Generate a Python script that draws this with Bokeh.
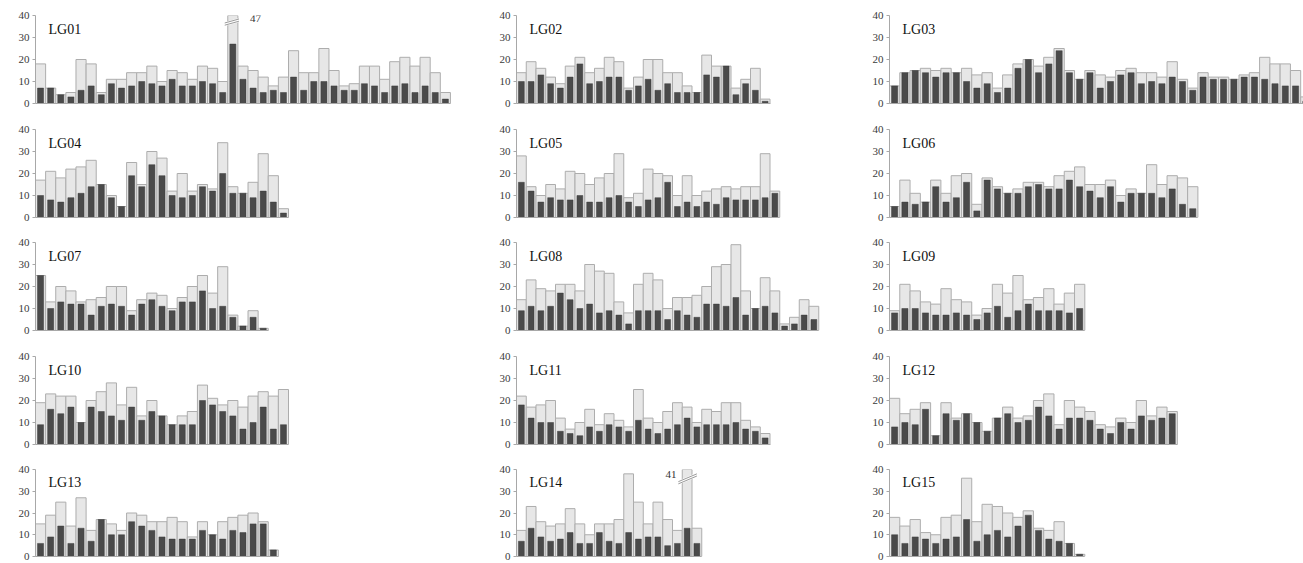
from bokeh.plotting import figure
from bokeh.layouts import column, row
from bokeh.models import Range1d, FixedTicker, Label, ColumnDataSource
from bokeh.embed import file_html
from bokeh.resources import INLINE

# ---------------- data (light = total, dark = subset) ----------------
LG01_total = [18, 7, 4, 5, 20, 18, 5, 11, 11, 14, 14, 17, 10, 15, 14, 11, 17, 16, 10, 47,
              17, 15, 12, 8, 12, 24, 14, 14, 25, 15, 8, 9, 17, 17, 11, 19, 21, 17, 21, 14, 5]
LG01_dark = [7, 7, 4, 3, 6, 8, 4, 9, 7, 8, 10, 9, 8, 11, 8, 8, 10, 9, 5, 27,
             11, 7, 5, 6, 5, 12, 6, 10, 10, 8, 6, 6, 9, 8, 5, 8, 9, 5, 8, 5, 2]
LG02_total = [14, 19, 16, 12, 9, 17, 21, 14, 16, 21, 19, 7, 12, 20, 20, 14, 14, 8, 5, 22, 17, 17, 7, 11, 16, 2]
LG02_dark = [10, 10, 13, 9, 7, 12, 18, 9, 10, 12, 12, 6, 8, 11, 6, 9, 5, 5, 5, 13, 12, 17, 4, 9, 6, 1]
LG03_total = [8, 14, 15, 16, 15, 16, 14, 16, 13, 14, 7, 13, 18, 20, 17, 21, 25, 15, 11, 15,
              13, 12, 15, 16, 14, 14, 12, 19, 11, 7, 14, 12, 12, 11, 13, 14, 21, 18, 18, 15, 3]
LG03_dark = [8, 14, 15, 14, 12, 14, 14, 10, 7, 9, 5, 7, 16, 20, 14, 18, 24, 14, 11, 14,
             7, 10, 13, 14, 9, 10, 9, 12, 10, 6, 12, 11, 11, 11, 12, 12, 11, 9, 8, 8, 1]
LG04_total = [17, 21, 18, 22, 23, 26, 15, 10, 5, 25, 15, 30, 27, 12, 20, 12, 15, 13, 34, 14, 11, 16, 29, 19, 4]
LG04_dark = [10, 8, 7, 9, 11, 14, 15, 9, 5, 19, 14, 24, 19, 10, 9, 10, 14, 12, 20, 11, 11, 9, 12, 7, 2]
LG05_total = [28, 14, 10, 15, 13, 21, 20, 15, 18, 20, 29, 9, 11, 22, 20, 19, 10, 19, 10, 12, 13, 14, 13, 14, 14, 29, 12]
LG05_dark = [16, 12, 7, 9, 8, 8, 10, 7, 7, 9, 10, 7, 5, 8, 9, 16, 5, 7, 5, 7, 6, 9, 8, 8, 8, 9, 11]
LG06_total = [5, 17, 11, 7, 17, 11, 19, 20, 6, 18, 14, 11, 13, 16, 16, 14, 19, 21, 23, 15, 15, 17, 10, 13, 11, 24, 15, 19, 18, 14]
LG06_dark = [5, 7, 6, 7, 14, 7, 9, 16, 3, 17, 13, 11, 11, 14, 15, 13, 13, 17, 14, 12, 9, 14, 7, 11, 11, 11, 9, 13, 6, 4]
LG07_total = [25, 13, 20, 18, 13, 14, 15, 20, 20, 9, 14, 17, 16, 10, 15, 20, 25, 17, 29, 7, 2, 9, 1]
LG07_dark = [25, 10, 13, 12, 12, 7, 11, 12, 11, 7, 12, 14, 11, 9, 13, 13, 18, 10, 11, 6, 2, 6, 1]
LG08_total = [14, 23, 19, 18, 21, 21, 18, 30, 27, 26, 13, 8, 21, 26, 23, 10, 15, 15, 16, 20, 29, 30, 39, 18, 10, 24, 18, 3, 6, 14, 11]
LG08_dark = [9, 11, 9, 11, 17, 14, 10, 12, 8, 9, 7, 3, 9, 9, 9, 5, 9, 7, 6, 12, 12, 11, 15, 7, 10, 11, 8, 2, 3, 7, 5]
LG09_total = [9, 21, 18, 13, 12, 19, 14, 13, 7, 10, 21, 17, 25, 14, 15, 19, 12, 17, 21]
LG09_dark = [8, 10, 10, 8, 7, 7, 8, 7, 5, 8, 11, 6, 9, 12, 9, 9, 9, 8, 10]
LG10_total = [19, 23, 22, 22, 10, 20, 24, 28, 18, 26, 13, 20, 13, 9, 13, 15, 27, 21, 18, 20, 17, 22, 24, 22, 25]
LG10_dark = [9, 16, 14, 17, 10, 17, 15, 13, 11, 17, 11, 15, 13, 9, 9, 9, 20, 18, 15, 13, 7, 10, 17, 7, 9]
LG11_total = [22, 17, 18, 20, 12, 7, 10, 16, 9, 14, 11, 8, 25, 12, 10, 15, 19, 17, 10, 16, 15, 19, 19, 11, 8, 5]
LG11_dark = [18, 12, 10, 10, 6, 5, 4, 8, 6, 9, 8, 6, 11, 7, 5, 7, 9, 12, 8, 9, 9, 9, 10, 7, 6, 3]
LG12_total = [21, 14, 16, 19, 4, 19, 12, 14, 10, 6, 12, 17, 12, 13, 20, 23, 9, 20, 17, 15, 9, 8, 12, 10, 20, 13, 17, 15]
LG12_dark = [8, 10, 9, 16, 4, 14, 11, 14, 10, 6, 12, 14, 10, 11, 17, 13, 7, 12, 12, 11, 7, 5, 10, 7, 13, 11, 12, 14]
LG13_total = [15, 19, 25, 14, 27, 12, 17, 15, 12, 20, 19, 16, 16, 18, 16, 9, 16, 10, 16, 18, 19, 20, 16, 3]
LG13_dark = [6, 9, 14, 6, 13, 7, 17, 10, 10, 16, 14, 12, 9, 8, 8, 8, 12, 10, 8, 12, 11, 15, 15, 3]
LG14_total = [12, 23, 16, 14, 15, 22, 15, 10, 15, 15, 17, 38, 25, 15, 25, 17, 12, 41, 13]
LG14_dark = [7, 13, 9, 7, 8, 11, 6, 6, 11, 7, 6, 11, 8, 9, 9, 5, 6, 13, 6]
LG15_total = [18, 14, 17, 11, 10, 18, 19, 36, 16, 24, 23, 20, 18, 21, 13, 12, 16, 6, 1]
LG15_dark = [10, 6, 9, 8, 6, 8, 9, 17, 7, 10, 12, 9, 14, 19, 12, 8, 7, 6, 1]

names = ["LG01", "LG02", "LG03", "LG04", "LG05", "LG06", "LG07", "LG08",
         "LG09", "LG10", "LG11", "LG12", "LG13", "LG14", "LG15"]
totals = [LG01_total, LG02_total, LG03_total, LG04_total, LG05_total, LG06_total, LG07_total,
          LG08_total, LG09_total, LG10_total, LG11_total, LG12_total, LG13_total, LG14_total, LG15_total]
darks = [LG01_dark, LG02_dark, LG03_dark, LG04_dark, LG05_dark, LG06_dark, LG07_dark,
         LG08_dark, LG09_dark, LG10_dark, LG11_dark, LG12_dark, LG13_dark, LG14_dark, LG15_dark]
y_ticks = [0, 10, 20, 30, 40]
Y_MAX = 40

# ---------------- layout / style ----------------
COL_W = [489, 373, 441]          # figure widths per column
COL_LEFT = [35, 27, 27]          # left border (axis area) per column
SLOT = [10.12, 9.75, 10.28]      # pixel width of one bar slot per column
# (top border, frame height, bottom border) per row
ROW_GEOM = [(15, 88, 11), (15, 88, 10), (15, 88, 11), (15, 88, 10), (15, 87, 7)]
FONT = "Liberation Serif"
LIGHT_FILL = "#e7e7e7"
LIGHT_LINE = "#adadad"
DARK_FILL = "#4a4a4a"
AXIS_COL = "#a8a8a8"
# label side for values over the axis maximum
BREAK_SIDE = {"LG01": "right", "LG14": "left"}


def make_panel(k):
    r, c = divmod(k, 3)
    top, fh, bottom = ROW_GEOM[r]
    w = COL_W[c]
    h = top + fh + bottom
    frame_w = w - COL_LEFT[c]
    xr = Range1d(0.5, 0.5 + frame_w / SLOT[c])
    p = figure(width=w, height=h, x_range=xr, y_range=Range1d(0, Y_MAX),
               output_backend="svg", toolbar_location=None,
               min_border_left=COL_LEFT[c], min_border_right=0,
               min_border_top=top, min_border_bottom=bottom)
    p.outline_line_color = None
    p.background_fill_color = "white"
    p.border_fill_color = "white"
    p.xgrid.visible = False
    p.ygrid.visible = False

    tot = totals[k]
    drk = darks[k]
    n = len(tot)
    xs = list(range(1, n + 1))
    src = ColumnDataSource(dict(x=xs, total=tot, dark=drk))
    p.vbar(x="x", top="total", bottom=0, width=1.0, source=src,
           fill_color=LIGHT_FILL, line_color=LIGHT_LINE, line_width=1)
    p.vbar(x="x", top="dark", bottom=0, width=0.6, source=src,
           fill_color=DARK_FILL, line_color="#3c3c3c", line_width=0.5)

    # y axis
    ya = p.yaxis[0]
    ya.ticker = FixedTicker(ticks=y_ticks)
    ya.minor_tick_line_color = None
    ya.major_tick_out = 3
    ya.major_tick_in = 0
    ya.axis_line_color = AXIS_COL
    ya.major_tick_line_color = AXIS_COL
    ya.major_label_standoff = 3
    ya.major_label_text_font = FONT
    ya.major_label_text_font_size = "11px"
    ya.major_label_text_color = "#3a3a3a"

    # x axis: just the baseline under the bars
    xa = p.xaxis[0]
    xa.ticker = FixedTicker(ticks=[])
    xa.minor_tick_line_color = None
    xa.major_tick_line_color = None
    xa.major_tick_out = 0
    xa.major_tick_in = 0
    xa.major_label_text_font_size = "0px"
    xa.major_label_standoff = 0
    xa.axis_line_color = AXIS_COL
    xa.bounds = (0.5, n + 0.5)

    # panel name
    p.add_layout(Label(x=0.5 + 13 / SLOT[c], y=33.8, text=names[k],
                       text_font=FONT, text_font_size="14px", text_color="#111111",
                       text_align="left", text_baseline="alphabetic"))

    # broken bars (values above the axis maximum)
    for i, v in enumerate(tot):
        if v > Y_MAX:
            xc = i + 1
            side = BREAK_SIDE.get(names[k], "right")
            if side == "right":
                x0, x1, y0, y1 = xc - 0.8, xc + 0.6, 35.6, 37.4
                lx, ly, la = xc + 1.7, 38.8, "left"
            else:
                x0, x1, y0, y1 = xc - 0.9, xc + 1.0, 33.4, 37.0
                lx, ly, la = xc - 1.1, 37.8, "right"
            p.segment(x0=[x0], y0=[y0 + 0.5], x1=[x1], y1=[y1 + 0.5],
                      line_color="white", line_width=4)
            p.segment(x0=[x0, x0], y0=[y0, y0 + 1.0], x1=[x1, x1], y1=[y1, y1 + 1.0],
                      line_color="#9a9a9a", line_width=1)
            p.add_layout(Label(x=lx, y=ly, text=str(v),
                               text_font=FONT, text_font_size="11px", text_color="#333333",
                               text_align=la, text_baseline="middle"))
    return p


panels = [make_panel(k) for k in range(15)]
rows = [row(*panels[r * 3:(r + 1) * 3], spacing=0) for r in range(5)]
layout = column(*rows, spacing=0)

open("out.html", "w").write(file_html(layout, INLINE))
